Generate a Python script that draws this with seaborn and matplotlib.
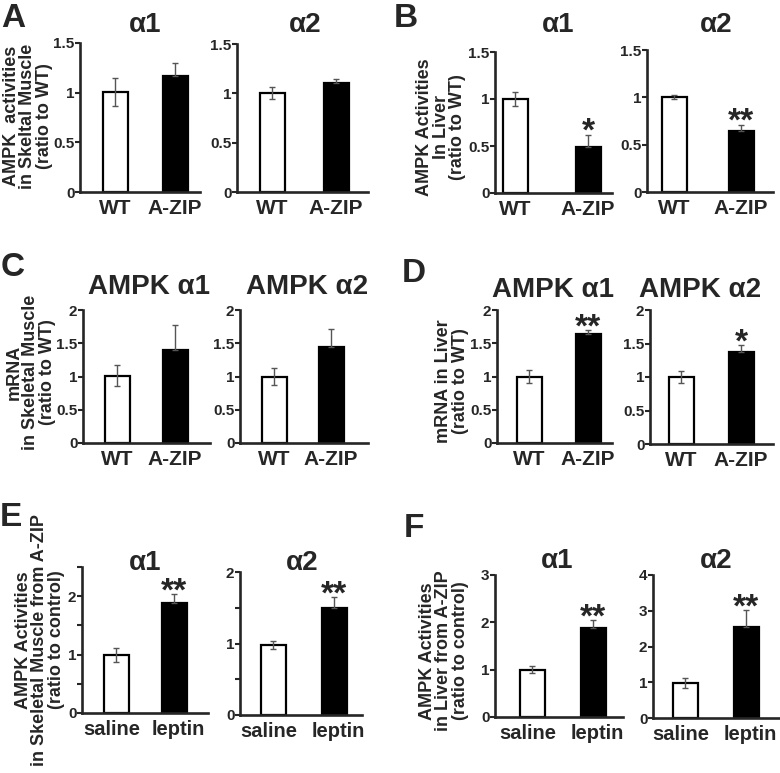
import matplotlib
matplotlib.use("Agg")
import matplotlib.pyplot as plt
import matplotlib.transforms as mtransforms
import seaborn as sns
import pandas as pd
from matplotlib.ticker import FixedLocator, FuncFormatter

# grupos
geno = ["WT", "A-ZIP"]
treat = ["saline", "leptin"]

# A: AMPK activities, skeletal muscle
a1_mean = [1.01, 1.17]
a1_sd = [0.14, 0.13]
a2_mean = [1.00, 1.10]
a2_sd = [0.06, 0.05]
# B: AMPK activities, liver
b1_mean = [1.00, 0.49]
b1_sd = [0.07, 0.13]
b2_mean = [1.00, 0.64]
b2_sd = [0.02, 0.07]
# C: mRNA, skeletal muscle
c1_mean = [1.01, 1.40]
c1_sd = [0.16, 0.37]
c2_mean = [1.00, 1.44]
c2_sd = [0.13, 0.27]
# D: mRNA, liver
d1_mean = [1.00, 1.64]
d1_sd = [0.10, 0.06]
d2_mean = [1.00, 1.37]
d2_sd = [0.09, 0.11]
# E: leptin, skeletal muscle
e1_mean = [0.99, 1.89]
e1_sd = [0.12, 0.15]
e2_mean = [0.98, 1.50]
e2_sd = [0.06, 0.15]
# F: leptin, liver
f1_mean = [1.00, 1.87]
f1_sd = [0.07, 0.18]
f2_mean = [0.99, 2.55]
f2_sd = [0.14, 0.47]

sig = {"b1": "*", "b2": "**", "d1": "**", "d2": "*",
       "e1": "**", "e2": "**", "f1": "**", "f2": "**"}

W, H = 780, 773

sns.set_style("ticks")
plt.rcParams["font.family"] = ["Liberation Sans", "DejaVu Sans"]
plt.rcParams["font.weight"] = "bold"

fig = plt.figure(figsize=(W / 100, H / 100), dpi=100)


def ftext(x, y, s, **kw):
    return fig.text(x / W, 1 - y / H, s, **kw)


def fmt(v, pos):
    return "%g" % v


# key, groups, mean, sd, ylim, major, minor, layout (L, R, c0, c1, top, bottom)
panels = [
    ("a1", geno, a1_mean, a1_sd, 1.5, [0, 0.5, 1, 1.5], [], (80, 200, 115, 175, 43, 192)),
    ("a2", geno, a2_mean, a2_sd, 1.5, [0, 0.5, 1, 1.5], [], (237, 368, 272, 336, 44, 192)),
    ("b1", geno, b1_mean, b1_sd, 1.5, [0, 0.5, 1, 1.5], [], (495, 612, 515, 588, 52, 193)),
    ("b2", geno, b2_mean, b2_sd, 1.5, [0, 0.5, 1, 1.5], [], (647, 773, 674, 741, 50, 192)),
    ("c1", geno, c1_mean, c1_sd, 2, [0, 0.5, 1, 1.5, 2], [], (83, 210, 117, 175, 310, 443)),
    ("c2", geno, c2_mean, c2_sd, 2, [0, 0.5, 1, 1.5, 2], [], (240, 368, 274, 331, 310, 443)),
    ("d1", geno, d1_mean, d1_sd, 2, [0, 0.5, 1, 1.5, 2], [], (497, 612, 529, 588, 310, 443)),
    ("d2", geno, d2_mean, d2_sd, 2, [0, 0.5, 1, 1.5, 2], [], (650, 773, 681, 741, 310, 444)),
    ("e1", treat, e1_mean, e1_sd, 2.5, [0, 1, 2], [0.5, 1.5, 2.5], (82, 208, 116, 174, 567, 713)),
    ("e2", treat, e2_mean, e2_sd, 2, [0, 1, 2], [0.5, 1.5], (240, 362, 273, 334, 572, 715)),
    ("f1", treat, f1_mean, f1_sd, 3, [0, 1, 2, 3], [], (495, 623, 532, 593, 575, 717)),
    ("f2", treat, f2_mean, f2_sd, 4, [0, 1, 2, 3, 4], [], (653, 780, 685, 746, 575, 718)),
]

for key, groups, mean, sd, ymax, major, minor, lay in panels:
    L, R, c0, c1, top, bot = lay
    ax = fig.add_axes([L / W, 1 - bot / H, (R - L) / W, (bot - top) / H])
    unit = c1 - c0
    df = pd.DataFrame({"group": groups, "value": mean})
    sns.barplot(data=df, x="group", y="value", hue="group", order=groups,
                hue_order=groups, palette=["white", "black"], edgecolor="black",
                linewidth=1.6, width=25 / unit, errorbar=None, legend=False, ax=ax)
    # barras de error
    ax.errorbar([0], [mean[0]], yerr=[sd[0]], fmt="none", ecolor="#555555",
                elinewidth=1, capsize=2.5, capthick=1, zorder=5)
    ax.errorbar([1], [mean[1]], yerr=[[0], [sd[1]]], fmt="none", ecolor="#555555",
                elinewidth=1, capsize=2.5, capthick=1, zorder=1)
    ax.set_xlim(-(c0 - L) / unit, (R - c0) / unit)
    ax.set_ylim(0, ymax)
    ax.yaxis.set_major_locator(FixedLocator(major))
    ax.yaxis.set_major_formatter(FuncFormatter(fmt))
    if minor:
        ax.yaxis.set_minor_locator(FixedLocator(minor))
    ax.set_xlabel("")
    ax.set_ylabel("")
    for s in ["top", "right"]:
        ax.spines[s].set_visible(False)
    for s in ["left", "bottom"]:
        ax.spines[s].set_linewidth(1.9)
    ax.patch.set_alpha(0)
    xsize = 15 if groups is geno else 14.5
    ax.tick_params(axis="x", length=0, pad=5, labelsize=xsize)
    ax.tick_params(axis="y", which="both", length=3.5, width=1.5, pad=0.5,
                   labelsize=11, direction="out")
    for t in ax.get_xticklabels() + ax.get_yticklabels():
        t.set_fontweight("bold")
    if groups is treat:
        # las etiquetas no quedan centradas en el original
        xl = ax.get_xticklabels()
        xl[0].set_transform(xl[0].get_transform() + mtransforms.ScaledTranslation(-4 / 100, 0, fig.dpi_scale_trans))
        xl[1].set_transform(xl[1].get_transform() + mtransforms.ScaledTranslation(4 / 100, 0, fig.dpi_scale_trans))
    if key in sig:
        ax.annotate(sig[key], (1, mean[1] + sd[1]), xytext=(0, -4.5),
                    textcoords="offset points", ha="center", va="baseline",
                    fontsize=24, fontweight="bold")

# Titulos
titles = [
    ("α1", 145, 25), ("α2", 305, 25), ("α1", 558, 25), ("α2", 716, 25),
    ("AMPK α1", 149, 287), ("AMPK α2", 307, 287), ("AMPK α1", 553, 290), ("AMPK α2", 700, 290),
    ("α1", 145, 563), ("α2", 302, 563), ("α1", 557, 561), ("α2", 716, 561),
]
for s, x, y in titles:
    ftext(x, y, s, ha="center", va="center", fontsize=20, fontweight="bold")

# Etiquetas del eje y (una linea cada vez)
ylabels = [
    (["AMPK  activities", "in Skeltal Muscle", "(ratio to WT)"], 28, 116),
    (["AMPK Activities", "In Liver", "(ratio to WT)"], 441, 127),
    (["mRNA", "in Skeletal Muscle", "(ratio to WT)"], 31, 372),
    (["mRNA in Liver", "(ratio to WT)"], 452, 381),
    (["AMPK Activities", "in Skeletal Muscle from A-ZIP", "(ratio to control)"], 40, 640),
    (["AMPK Activities", "in Liver from A-ZIP", "(ratio to control)"], 444, 651),
]
for lines, xc, yc in ylabels:
    n = len(lines)
    for i, s in enumerate(lines):
        ftext(xc + (i - (n - 1) / 2) * 16.5, yc, s, ha="center", va="center",
              rotation=90, fontsize=13, fontweight="bold")

# Letras de panel
letters = [("A", 1, 3), ("B", 394, 3), ("C", 1, 252), ("D", 402, 258), ("E", 0, 502), ("F", 404, 513)]
for s, x, y in letters:
    ftext(x, y, s, ha="left", va="top", fontsize=24, fontweight="bold")

fig.savefig("out.png", dpi=100)
